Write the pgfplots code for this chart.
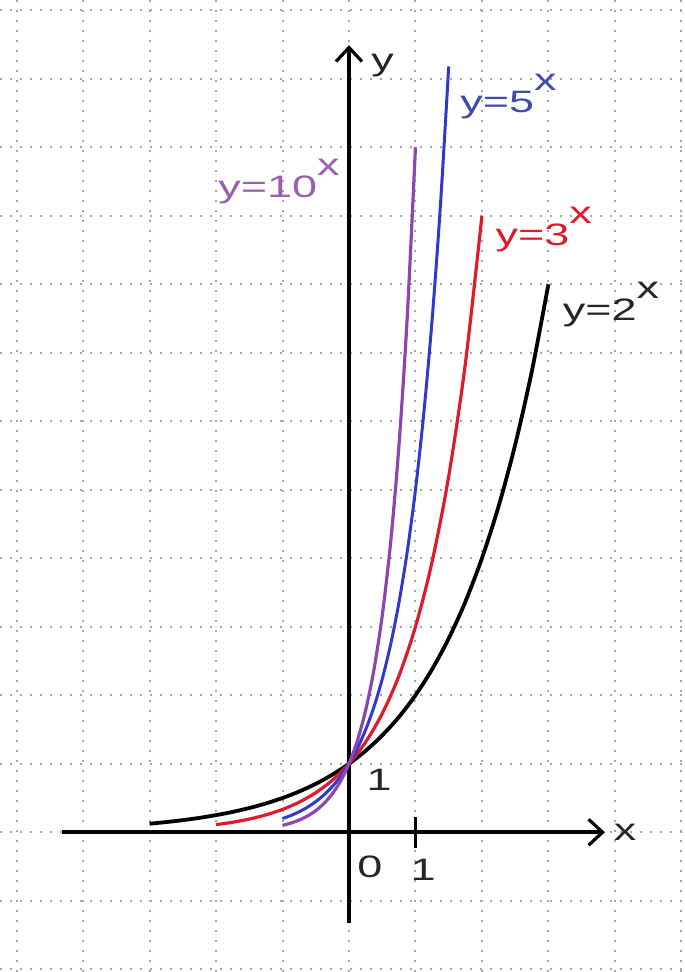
\documentclass[border=0pt]{standalone}
\usepackage{pgfplots}
\pgfplotsset{compat=1.18}
\usepackage{fontspec}
\setmainfont{Liberation Sans}
\usetikzlibrary{arrows.meta}
\definecolor{gridc}{RGB}{160,168,168}
\definecolor{cpur}{RGB}{140,70,175}
\definecolor{cpurl}{RGB}{155,95,175}
\definecolor{cblue}{RGB}{50,55,205}
\definecolor{cbluel}{RGB}{65,75,175}
\definecolor{cred}{RGB}{225,25,45}
\newcommand\st[1]{\scalebox{1.45}[1]{#1}}
\newcommand\lab[1]{\st{y=#1}\raisebox{11pt}{\st{x}}}
\begin{document}
\begin{tikzpicture}
\begin{axis}[
  scale only axis,
  width=342pt, height=486pt,
  xmin=-5.25, xmax=5.04, ymin=-2.04, ymax=12.15,
  xtick={-5,...,5}, ytick={-2,...,12},
  xticklabels={}, yticklabels={},
  major tick length=0pt,
  axis line style={draw=none},
  grid=major,
  major grid style={draw=gridc, line width=1pt, dash pattern=on 1pt off 4pt},
  clip=false,
  font=\fontsize{15.5}{18}\selectfont,
]
% axes
\draw[line width=2pt, -{Straight Barb[length=7pt,width=13pt,line width=1.6pt]}] (axis cs:-4.32,0) -- (axis cs:3.85,0);
\draw[line width=2pt, -{Straight Barb[length=7pt,width=13pt,line width=1.6pt]}] (axis cs:0,-1.33) -- (axis cs:0,11.49);
\draw[line width=1.6pt] (axis cs:1,0.22) -- (axis cs:1,-0.23);
% y = 2^x
\addplot[black, line width=1.9pt, smooth] coordinates {
(-3,0.125) (-2.75,0.1487) (-2.5,0.1768) (-2.25,0.2102) (-2,0.25) (-1.75,0.2973)
(-1.5,0.3536) (-1.25,0.4204) (-1,0.5) (-0.75,0.5946) (-0.5,0.7071) (-0.25,0.8409)
(0,1) (0.25,1.1892) (0.5,1.4142) (0.75,1.6818) (1,2) (1.25,2.3784) (1.5,2.8284)
(1.75,3.3636) (2,4) (2.25,4.7568) (2.5,5.6569) (2.75,6.7272) (3,8)};
% y = 3^x
\addplot[cred, line width=1.6pt, smooth] coordinates {
(-2,0.1111) (-1.75,0.1462) (-1.5,0.1925) (-1.25,0.2533) (-1,0.3333) (-0.75,0.4387)
(-0.5,0.5774) (-0.25,0.7598) (0,1) (0.25,1.3161) (0.5,1.7321) (0.75,2.2795)
(1,3) (1.25,3.9482) (1.5,5.1962) (1.75,6.8385) (2,9)};
% y = 5^x
\addplot[cblue, line width=1.5pt, smooth] coordinates {
(-1,0.2) (-0.875,0.2445) (-0.75,0.2991) (-0.625,0.3657) (-0.5,0.4472) (-0.375,0.5469)
(-0.25,0.6687) (-0.125,0.8178) (0,1) (0.125,1.2228) (0.25,1.4953) (0.375,1.8286)
(0.5,2.2361) (0.625,2.7344) (0.75,3.3437) (0.875,4.0889) (1,5) (1.125,6.1142)
(1.25,7.4767) (1.375,9.1429) (1.5,11.1803)};
% y = 10^x
\addplot[cpur, line width=1.6pt, smooth] coordinates {
(-1,0.1) (-0.875,0.1334) (-0.75,0.1778) (-0.625,0.2371) (-0.5,0.3162) (-0.375,0.4217)
(-0.25,0.5623) (-0.125,0.7499) (0,1) (0.125,1.3335) (0.25,1.7783) (0.375,2.3714)
(0.5,3.1623) (0.625,4.2170) (0.75,5.6234) (0.875,7.4989) (1,10)};
% labels
\node[anchor=base west, inner sep=0pt, text=cpurl] at (axis cs:-1.97,9.27) {\lab{10}};
\node[anchor=base west, inner sep=0pt, text=cbluel] at (axis cs:1.67,10.51) {\lab{5}};
\node[anchor=base west, inner sep=0pt, text=cred] at (axis cs:2.2,8.57) {\lab{3}};
\node[anchor=base west, inner sep=0pt, text=black!85] at (axis cs:3.21,7.47) {\lab{2}};
\node[anchor=base west, inner sep=0pt, text=black!85] at (axis cs:0.26,0.61) {\st{1}};
\node[anchor=base west, inner sep=0pt, text=black!85] at (axis cs:0.12,-0.66) {\st{0}};
\node[anchor=base west, inner sep=0pt, text=black!85] at (axis cs:0.92,-0.70) {\st{1}};
\node[anchor=base west, inner sep=0pt, text=black!85] at (axis cs:3.98,-0.12) {\st{x}};
\node[anchor=base west, inner sep=0pt, text=black!85] at (axis cs:0.33,11.12) {\st{y}};
\end{axis}
\pgfresetboundingbox
\path[use as bounding box] (current axis.south west) rectangle (current axis.north east);
\end{tikzpicture}
\end{document}
